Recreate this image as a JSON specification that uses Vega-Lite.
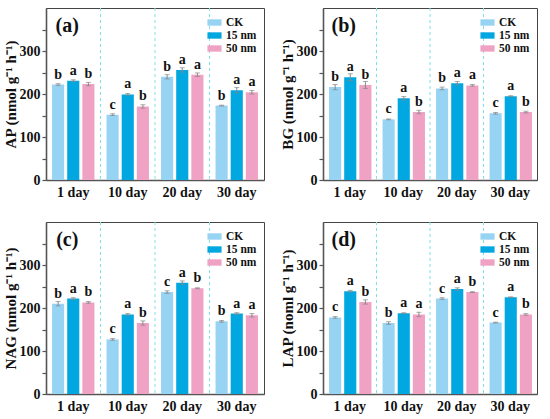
{
  "$schema": "https://vega.github.io/schema/vega-lite/v6.json",
  "background": "white",
  "padding": {"left": 2, "top": 7, "right": 5, "bottom": 3},
  "spacing": 21,
  "datasets": {
    "bars": [
      {"panel": "a", "day": "1 day", "group": "CK", "value": 222, "err": 2, "letter": "b"},
      {"panel": "a", "day": "1 day", "group": "15 nm", "value": 231, "err": 2, "letter": "a"},
      {"panel": "a", "day": "1 day", "group": "50 nm", "value": 223, "err": 4, "letter": "b"},
      {"panel": "a", "day": "10 day", "group": "CK", "value": 152, "err": 2, "letter": "c"},
      {"panel": "a", "day": "10 day", "group": "15 nm", "value": 199, "err": 2, "letter": "a"},
      {"panel": "a", "day": "10 day", "group": "50 nm", "value": 171, "err": 4, "letter": "b"},
      {"panel": "a", "day": "20 day", "group": "CK", "value": 240, "err": 5, "letter": "b"},
      {"panel": "a", "day": "20 day", "group": "15 nm", "value": 256, "err": 5, "letter": "a"},
      {"panel": "a", "day": "20 day", "group": "50 nm", "value": 245, "err": 4, "letter": "a"},
      {"panel": "a", "day": "30 day", "group": "CK", "value": 173, "err": 1, "letter": "b"},
      {"panel": "a", "day": "30 day", "group": "15 nm", "value": 209, "err": 6, "letter": "a"},
      {"panel": "a", "day": "30 day", "group": "50 nm", "value": 204, "err": 4, "letter": "a"},
      {"panel": "b", "day": "1 day", "group": "CK", "value": 216, "err": 6, "letter": "b"},
      {"panel": "b", "day": "1 day", "group": "15 nm", "value": 239, "err": 8, "letter": "a"},
      {"panel": "b", "day": "1 day", "group": "50 nm", "value": 221, "err": 8, "letter": "b"},
      {"panel": "b", "day": "10 day", "group": "CK", "value": 141, "err": 1, "letter": "c"},
      {"panel": "b", "day": "10 day", "group": "15 nm", "value": 190, "err": 4, "letter": "a"},
      {"panel": "b", "day": "10 day", "group": "50 nm", "value": 158, "err": 4, "letter": "b"},
      {"panel": "b", "day": "20 day", "group": "CK", "value": 213, "err": 3, "letter": "b"},
      {"panel": "b", "day": "20 day", "group": "15 nm", "value": 225, "err": 4, "letter": "a"},
      {"panel": "b", "day": "20 day", "group": "50 nm", "value": 220, "err": 2, "letter": "a"},
      {"panel": "b", "day": "30 day", "group": "CK", "value": 155, "err": 2, "letter": "c"},
      {"panel": "b", "day": "30 day", "group": "15 nm", "value": 195, "err": 1, "letter": "a"},
      {"panel": "b", "day": "30 day", "group": "50 nm", "value": 158, "err": 2, "letter": "b"},
      {"panel": "c", "day": "1 day", "group": "CK", "value": 210, "err": 5, "letter": "b"},
      {"panel": "c", "day": "1 day", "group": "15 nm", "value": 222, "err": 2, "letter": "a"},
      {"panel": "c", "day": "1 day", "group": "50 nm", "value": 213, "err": 2, "letter": "b"},
      {"panel": "c", "day": "10 day", "group": "CK", "value": 127, "err": 2, "letter": "c"},
      {"panel": "c", "day": "10 day", "group": "15 nm", "value": 185, "err": 2, "letter": "a"},
      {"panel": "c", "day": "10 day", "group": "50 nm", "value": 165, "err": 5, "letter": "b"},
      {"panel": "c", "day": "20 day", "group": "CK", "value": 237, "err": 3, "letter": "c"},
      {"panel": "c", "day": "20 day", "group": "15 nm", "value": 259, "err": 4, "letter": "a"},
      {"panel": "c", "day": "20 day", "group": "50 nm", "value": 246, "err": 1, "letter": "b"},
      {"panel": "c", "day": "30 day", "group": "CK", "value": 169, "err": 2, "letter": "b"},
      {"panel": "c", "day": "30 day", "group": "15 nm", "value": 187, "err": 2, "letter": "a"},
      {"panel": "c", "day": "30 day", "group": "50 nm", "value": 183, "err": 4, "letter": "a"},
      {"panel": "d", "day": "1 day", "group": "CK", "value": 178, "err": 2, "letter": "c"},
      {"panel": "d", "day": "1 day", "group": "15 nm", "value": 239, "err": 2, "letter": "a"},
      {"panel": "d", "day": "1 day", "group": "50 nm", "value": 214, "err": 5, "letter": "b"},
      {"panel": "d", "day": "10 day", "group": "CK", "value": 165, "err": 3, "letter": "b"},
      {"panel": "d", "day": "10 day", "group": "15 nm", "value": 188, "err": 1, "letter": "a"},
      {"panel": "d", "day": "10 day", "group": "50 nm", "value": 185, "err": 5, "letter": "a"},
      {"panel": "d", "day": "20 day", "group": "CK", "value": 222, "err": 2, "letter": "c"},
      {"panel": "d", "day": "20 day", "group": "15 nm", "value": 244, "err": 3, "letter": "a"},
      {"panel": "d", "day": "20 day", "group": "50 nm", "value": 237, "err": 1, "letter": "b"},
      {"panel": "d", "day": "30 day", "group": "CK", "value": 166, "err": 1, "letter": "c"},
      {"panel": "d", "day": "30 day", "group": "15 nm", "value": 225, "err": 1, "letter": "a"},
      {"panel": "d", "day": "30 day", "group": "50 nm", "value": 185, "err": 2, "letter": "b"}
    ],
    "seps": [{"day": "10 day"}, {"day": "20 day"}, {"day": "30 day"}],
    "tags": [{"panel": "a", "tag": "(a)"}, {"panel": "b", "tag": "(b)"}, {"panel": "c", "tag": "(c)"}, {"panel": "d", "tag": "(d)"}]
  },
  "config": {
    "font": "Liberation Serif",
    "view": {"stroke": "#444", "strokeWidth": 1},
    "axis": {
      "domainColor": "#555",
      "domainWidth": 1.6,
      "tickColor": "#555",
      "tickWidth": 1.2,
      "tickSize": 4,
      "grid": false,
      "labelFont": "Liberation Serif",
      "labelFontWeight": "bold",
      "labelFontSize": 14,
      "labelColor": "#111",
      "titleFont": "Liberation Serif",
      "titleFontWeight": "bold",
      "titleFontSize": 15,
      "titleColor": "#111"
    },
    "legend": {
      "labelFont": "Liberation Serif",
      "labelFontWeight": "bold",
      "labelFontSize": 11.5,
      "labelColor": "#111"
    }
  },
  "vconcat": [
    {
      "spacing": 14,
      "hconcat": [
        {
          "width": 218, "height": 172,
          "layer": [
            {"data": {"name": "seps"}, "mark": {"type": "rule", "color": "#7fe3e3", "strokeDash": [3, 3], "strokeWidth": 1},
             "encoding": {"x": {"field": "day", "type": "nominal", "bandPosition": 0}}},
            {"data": {"name": "bars"}, "transform": [{"filter": "datum.panel === 'a'"}],
             "layer": [
              {"mark": {"type": "bar"}, "encoding": {"y": {"field": "value", "type": "quantitative"},
                "color": {"field": "group", "type": "nominal", "sort": ["CK", "15 nm", "50 nm"], "scale": {"range": ["#97d3f2", "#00a7e0", "#f0a2c4"]},
                 "legend": {"title": null, "orient": "top-right", "offset": 7, "symbolType": "M-1,-0.45H1V0.45H-1Z", "symbolSize": 200, "symbolStrokeWidth": 0, "rowPadding": 0, "labelOffset": 4}}}},
              {"mark": {"type": "errorbar", "thickness": 1, "ticks": {"size": 5}},
               "encoding": {"y": {"field": "value", "type": "quantitative"}, "yError": {"field": "err"}, "color": {"value": "#888"}}},
              {"mark": {"type": "text", "baseline": "bottom", "dy": -3, "fontSize": 14, "fontWeight": "bold"},
               "encoding": {"y": {"field": "value", "type": "quantitative"}, "text": {"field": "letter"}, "color": {"value": "#111"}}}
             ],
             "encoding": {
               "xOffset": {"field": "group", "type": "nominal", "sort": ["CK", "15 nm", "50 nm"], "scale": {"paddingInner": 0.2, "paddingOuter": 0.4}}
             }},
            {"data": {"name": "tags"}, "transform": [{"filter": "datum.panel === 'a'"}],
             "mark": {"type": "text", "fontSize": 20, "fontWeight": "bold", "color": "#111", "dx": -6},
             "encoding": {"x": {"datum": "1 day"}, "y": {"datum": 358}, "text": {"field": "tag"}}}
          ],
          "encoding": {
            "x": {"field": "day", "type": "nominal", "sort": ["1 day", "10 day", "20 day", "30 day"], "scale": {"domain": ["1 day", "10 day", "20 day", "30 day"], "paddingInner": 0, "paddingOuter": 0},
                  "axis": {"title": null, "labelAngle": 0, "ticks": false, "labelPadding": 5}},
            "y": {"type": "quantitative", "scale": {"domain": [0, 400], "nice": false},
                  "axis": {"title": "AP (nmol g⁻¹ h⁻¹)", "values": [0, 50, 100, 150, 200, 250, 300, 350], "labelExpr": "datum.value % 100 === 0 ? datum.label : ''", "titlePadding": 1}}
          }
        },
        {
          "width": 214, "height": 172,
          "layer": [
            {"data": {"name": "seps"}, "mark": {"type": "rule", "color": "#7fe3e3", "strokeDash": [3, 3], "strokeWidth": 1},
             "encoding": {"x": {"field": "day", "type": "nominal", "bandPosition": 0}}},
            {"data": {"name": "bars"}, "transform": [{"filter": "datum.panel === 'b'"}],
             "layer": [
              {"mark": {"type": "bar"}, "encoding": {"y": {"field": "value", "type": "quantitative"},
                "color": {"field": "group", "type": "nominal", "sort": ["CK", "15 nm", "50 nm"], "scale": {"range": ["#97d3f2", "#00a7e0", "#f0a2c4"]},
                 "legend": {"title": null, "orient": "top-right", "offset": 7, "symbolType": "M-1,-0.45H1V0.45H-1Z", "symbolSize": 200, "symbolStrokeWidth": 0, "rowPadding": 0, "labelOffset": 4}}}},
              {"mark": {"type": "errorbar", "thickness": 1, "ticks": {"size": 5}},
               "encoding": {"y": {"field": "value", "type": "quantitative"}, "yError": {"field": "err"}, "color": {"value": "#888"}}},
              {"mark": {"type": "text", "baseline": "bottom", "dy": -3, "fontSize": 14, "fontWeight": "bold"},
               "encoding": {"y": {"field": "value", "type": "quantitative"}, "text": {"field": "letter"}, "color": {"value": "#111"}}}
             ],
             "encoding": {
               "xOffset": {"field": "group", "type": "nominal", "sort": ["CK", "15 nm", "50 nm"], "scale": {"paddingInner": 0.2, "paddingOuter": 0.4}}
             }},
            {"data": {"name": "tags"}, "transform": [{"filter": "datum.panel === 'b'"}],
             "mark": {"type": "text", "fontSize": 20, "fontWeight": "bold", "color": "#111", "dx": -6},
             "encoding": {"x": {"datum": "1 day"}, "y": {"datum": 358}, "text": {"field": "tag"}}}
          ],
          "encoding": {
            "x": {"field": "day", "type": "nominal", "sort": ["1 day", "10 day", "20 day", "30 day"], "scale": {"domain": ["1 day", "10 day", "20 day", "30 day"], "paddingInner": 0, "paddingOuter": 0},
                  "axis": {"title": null, "labelAngle": 0, "ticks": false, "labelPadding": 5}},
            "y": {"type": "quantitative", "scale": {"domain": [0, 400], "nice": false},
                  "axis": {"title": "BG (nmol g⁻¹ h⁻¹)", "values": [0, 50, 100, 150, 200, 250, 300, 350], "labelExpr": "datum.value % 100 === 0 ? datum.label : ''", "titlePadding": 1}}
          }
        }
      ],
      "resolve": {"scale": {"color": "independent"}, "legend": {"color": "independent"}}
    },
    {
      "spacing": 14,
      "hconcat": [
        {
          "width": 218, "height": 172,
          "layer": [
            {"data": {"name": "seps"}, "mark": {"type": "rule", "color": "#7fe3e3", "strokeDash": [3, 3], "strokeWidth": 1},
             "encoding": {"x": {"field": "day", "type": "nominal", "bandPosition": 0}}},
            {"data": {"name": "bars"}, "transform": [{"filter": "datum.panel === 'c'"}],
             "layer": [
              {"mark": {"type": "bar"}, "encoding": {"y": {"field": "value", "type": "quantitative"},
                "color": {"field": "group", "type": "nominal", "sort": ["CK", "15 nm", "50 nm"], "scale": {"range": ["#97d3f2", "#00a7e0", "#f0a2c4"]},
                 "legend": {"title": null, "orient": "top-right", "offset": 7, "symbolType": "M-1,-0.45H1V0.45H-1Z", "symbolSize": 200, "symbolStrokeWidth": 0, "rowPadding": 0, "labelOffset": 4}}}},
              {"mark": {"type": "errorbar", "thickness": 1, "ticks": {"size": 5}},
               "encoding": {"y": {"field": "value", "type": "quantitative"}, "yError": {"field": "err"}, "color": {"value": "#888"}}},
              {"mark": {"type": "text", "baseline": "bottom", "dy": -3, "fontSize": 14, "fontWeight": "bold"},
               "encoding": {"y": {"field": "value", "type": "quantitative"}, "text": {"field": "letter"}, "color": {"value": "#111"}}}
             ],
             "encoding": {
               "xOffset": {"field": "group", "type": "nominal", "sort": ["CK", "15 nm", "50 nm"], "scale": {"paddingInner": 0.2, "paddingOuter": 0.4}}
             }},
            {"data": {"name": "tags"}, "transform": [{"filter": "datum.panel === 'c'"}],
             "mark": {"type": "text", "fontSize": 20, "fontWeight": "bold", "color": "#111", "dx": -6},
             "encoding": {"x": {"datum": "1 day"}, "y": {"datum": 358}, "text": {"field": "tag"}}}
          ],
          "encoding": {
            "x": {"field": "day", "type": "nominal", "sort": ["1 day", "10 day", "20 day", "30 day"], "scale": {"domain": ["1 day", "10 day", "20 day", "30 day"], "paddingInner": 0, "paddingOuter": 0},
                  "axis": {"title": null, "labelAngle": 0, "ticks": false, "labelPadding": 5}},
            "y": {"type": "quantitative", "scale": {"domain": [0, 400], "nice": false},
                  "axis": {"title": "NAG (nmol g⁻¹ h⁻¹)", "values": [0, 50, 100, 150, 200, 250, 300, 350], "labelExpr": "datum.value % 100 === 0 ? datum.label : ''", "titlePadding": 1}}
          }
        },
        {
          "width": 214, "height": 172,
          "layer": [
            {"data": {"name": "seps"}, "mark": {"type": "rule", "color": "#7fe3e3", "strokeDash": [3, 3], "strokeWidth": 1},
             "encoding": {"x": {"field": "day", "type": "nominal", "bandPosition": 0}}},
            {"data": {"name": "bars"}, "transform": [{"filter": "datum.panel === 'd'"}],
             "layer": [
              {"mark": {"type": "bar"}, "encoding": {"y": {"field": "value", "type": "quantitative"},
                "color": {"field": "group", "type": "nominal", "sort": ["CK", "15 nm", "50 nm"], "scale": {"range": ["#97d3f2", "#00a7e0", "#f0a2c4"]},
                 "legend": {"title": null, "orient": "top-right", "offset": 7, "symbolType": "M-1,-0.45H1V0.45H-1Z", "symbolSize": 200, "symbolStrokeWidth": 0, "rowPadding": 0, "labelOffset": 4}}}},
              {"mark": {"type": "errorbar", "thickness": 1, "ticks": {"size": 5}},
               "encoding": {"y": {"field": "value", "type": "quantitative"}, "yError": {"field": "err"}, "color": {"value": "#888"}}},
              {"mark": {"type": "text", "baseline": "bottom", "dy": -3, "fontSize": 14, "fontWeight": "bold"},
               "encoding": {"y": {"field": "value", "type": "quantitative"}, "text": {"field": "letter"}, "color": {"value": "#111"}}}
             ],
             "encoding": {
               "xOffset": {"field": "group", "type": "nominal", "sort": ["CK", "15 nm", "50 nm"], "scale": {"paddingInner": 0.2, "paddingOuter": 0.4}}
             }},
            {"data": {"name": "tags"}, "transform": [{"filter": "datum.panel === 'd'"}],
             "mark": {"type": "text", "fontSize": 20, "fontWeight": "bold", "color": "#111", "dx": -6},
             "encoding": {"x": {"datum": "1 day"}, "y": {"datum": 358}, "text": {"field": "tag"}}}
          ],
          "encoding": {
            "x": {"field": "day", "type": "nominal", "sort": ["1 day", "10 day", "20 day", "30 day"], "scale": {"domain": ["1 day", "10 day", "20 day", "30 day"], "paddingInner": 0, "paddingOuter": 0},
                  "axis": {"title": null, "labelAngle": 0, "ticks": false, "labelPadding": 5}},
            "y": {"type": "quantitative", "scale": {"domain": [0, 400], "nice": false},
                  "axis": {"title": "LAP (noml g⁻¹ h⁻¹)", "values": [0, 50, 100, 150, 200, 250, 300, 350], "labelExpr": "datum.value % 100 === 0 ? datum.label : ''", "titlePadding": 1}}
          }
        }
      ],
      "resolve": {"scale": {"color": "independent"}, "legend": {"color": "independent"}}
    }
  ],
  "resolve": {"scale": {"color": "independent"}, "legend": {"color": "independent"}}
}
